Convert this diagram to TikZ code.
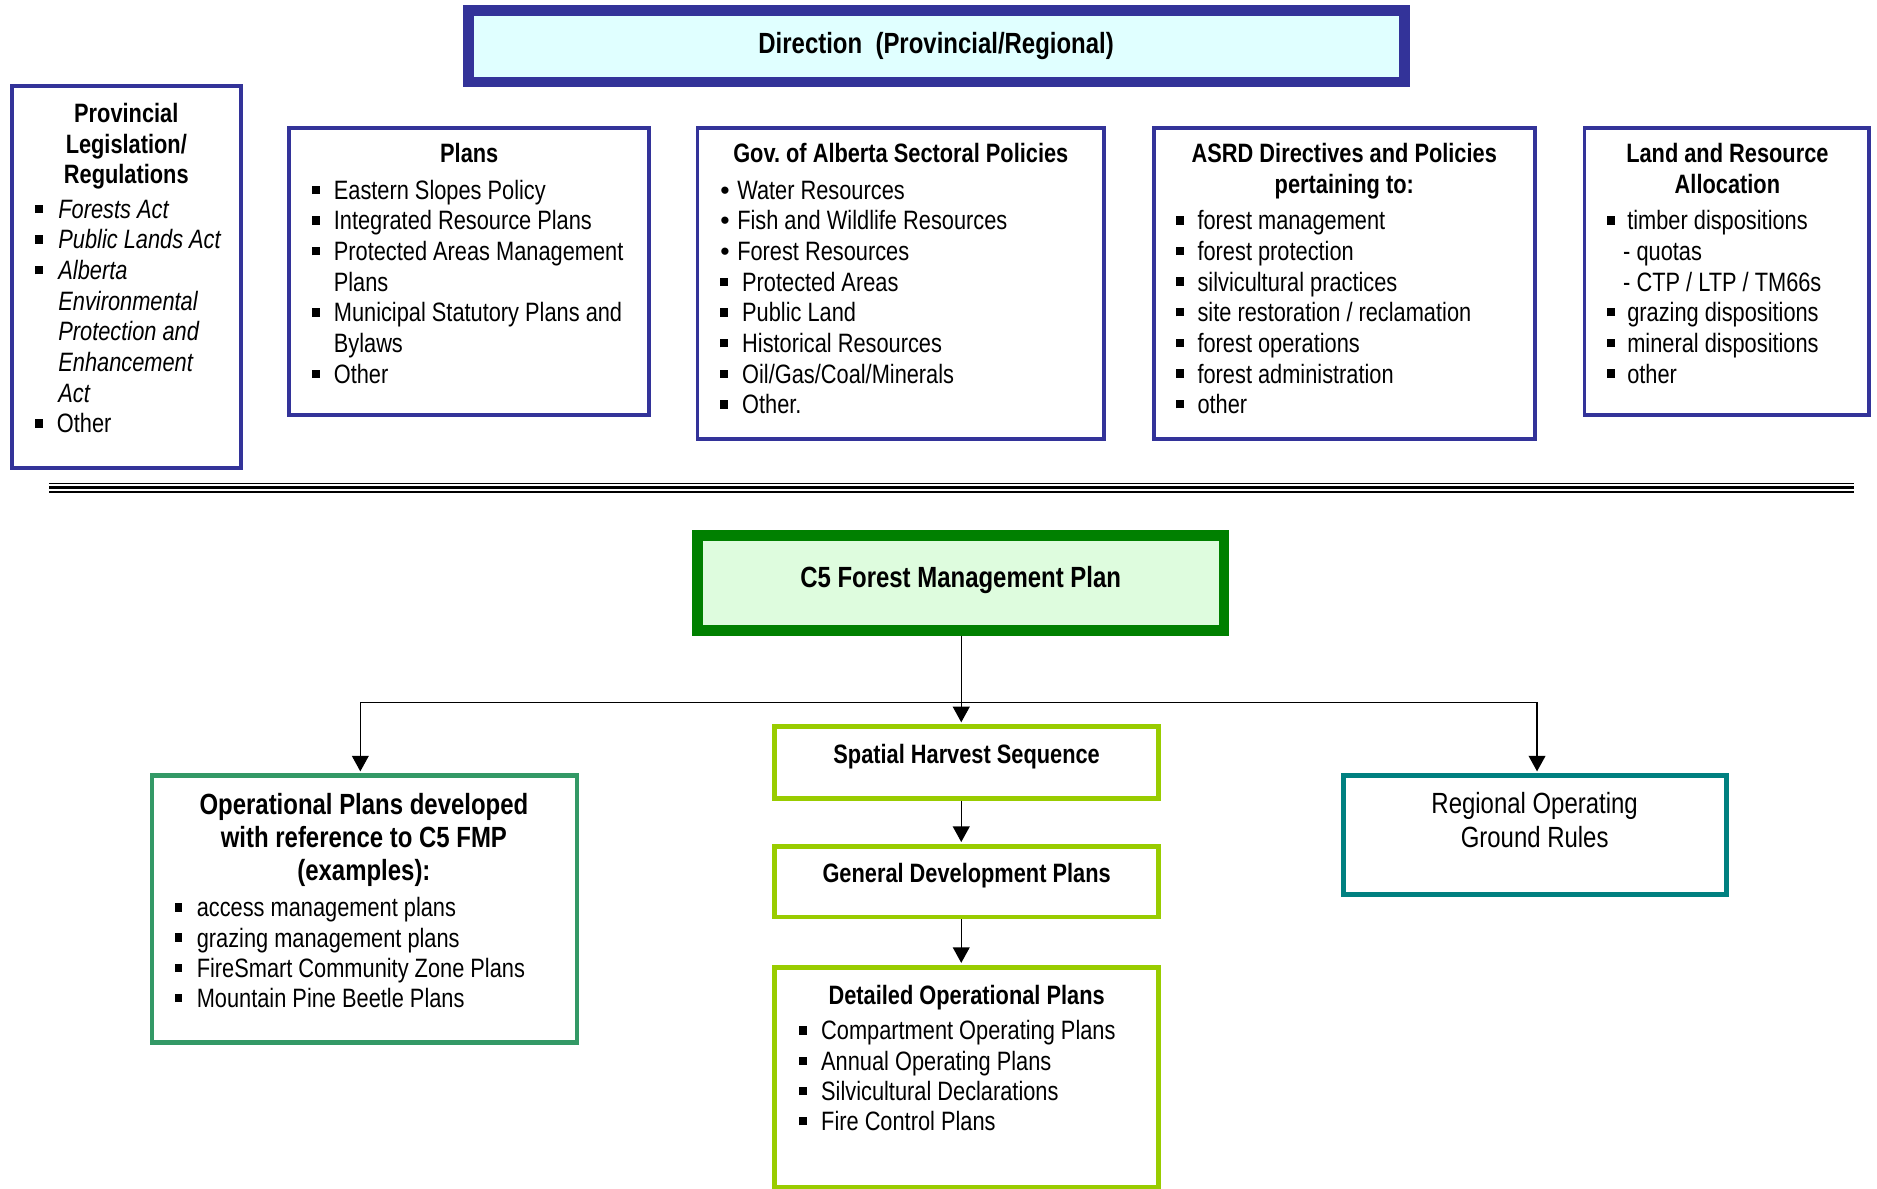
\documentclass[tikz,border=0pt]{standalone}
\usepackage{fontspec}
\setmainfont{Liberation Sans}[FakeStretch=0.82]
\newfontfamily\bulletfont{Liberation Sans}
\usetikzlibrary{arrows.meta}
\definecolor{cNavy}{RGB}{51,51,153}
\definecolor{cDirFill}{RGB}{224,255,255}
\definecolor{cFmp}{RGB}{0,128,0}
\definecolor{cFmpFill}{RGB}{222,252,222}
\definecolor{cLime}{RGB}{153,204,0}
\definecolor{cOps}{RGB}{51,153,102}
\definecolor{cTeal}{RGB}{0,128,128}
\newcommand\sqb[1][5.7pt]{\llap{\rule[2.2pt]{3.3pt}{3.5pt}\hspace{#1}}}
\newcommand\rdb{\llap{{\bulletfont •}\hspace{3.2pt}}}
\frenchspacing
\tikzset{
  topbox/.style={draw=cNavy, line width=1.65pt, fill=white},
  lowbox/.style={line width=2pt, fill=white},
  body/.style={font=\fontsize{11.1}{12.8}\selectfont, inner sep=0pt, anchor=base west},
  ttl/.style={font=\fontsize{11.1}{12.8}\selectfont\bfseries, inner sep=0pt, anchor=base},
  big/.style={font=\fontsize{12.2}{14}\selectfont\bfseries, inner sep=0pt, anchor=base},
  bigreg/.style={font=\fontsize{12.2}{14}\selectfont, inner sep=0pt, anchor=base},
  arr/.style={-{Triangle[width=7pt,length=6.5pt]}, line width=0.6pt, shorten >=0.8pt},
  conn/.style={line width=0.6pt}
}
\begin{document}
\frenchspacing
\begin{tikzpicture}[x=0.5pt,y=-0.5pt]
\useasboundingbox (0,0) rectangle (1568,993.2);

% ---------- top boxes ----------
\node[draw=cNavy, line width=4.5pt, fill=cDirFill, minimum width=391pt, minimum height=30pt, inner sep=0pt] (dir) at (782.5,38.5) {};
\node[big] (dirtxt) at (782,44.7) {Direction~ (Provincial/Regional)};

\node[topbox, minimum width=95.85pt, minimum height=159.85pt, inner sep=0pt] (prov) at (105.5,231.5) {};
\node[topbox, minimum width=150.35pt, minimum height=119.85pt, inner sep=0pt] (plans) at (392,226.5) {};
\node[topbox, minimum width=169.85pt, minimum height=129.85pt, inner sep=0pt] (gov) at (752.5,236.5) {};
\node[topbox, minimum width=159.35pt, minimum height=129.85pt, inner sep=0pt] (asrd) at (1123,236.5) {};
\node[topbox, minimum width=118.85pt, minimum height=119.85pt, inner sep=0pt] (land) at (1442.5,226.5) {};

% Provincial
\foreach \t [count=\i from 0] in {Provincial,Legislation/,Regulations}
  \node[ttl] (provt-\i) at (105.5,102.5+25.6*\i) {\t};
\foreach \t [count=\i from 0] in {{\sqb[6.5pt]\textit{Forests Act}},{\sqb[6.5pt]\textit{Public Lands Act}},{\sqb[6.5pt]\textit{Alberta}},{\textit{Environmental}},{\textit{Protection and}},{\textit{Enhancement}},{\textit{Act}},{\hspace{-0.6pt}\sqb[6pt]Other}}
  \node[body] (provb-\i) at (48.4,182.4+25.6*\i) {\t};

% Plans
\node[ttl] (planst) at (392,136) {Plans};
\foreach \t [count=\i from 0] in {{\sqb Eastern Slopes Policy},{\sqb Integrated Resource Plans},{\sqb Protected Areas Management},{Plans},{\sqb Municipal Statutory Plans and},{Bylaws},{\sqb Other}}
  \node[body] (plansb-\i) at (278.5,166.5+25.6*\i) {\t};

% Gov
\node[ttl] (govt) at (752.5,136) {Gov. of Alberta Sectoral Policies};
\foreach \t [count=\i from 0] in {Water Resources,Fish and Wildlife Resources,Forest Resources}
  \node[body] (govr-\i) at (615.5,166.5+25.6*\i) {\rdb\t};
\foreach \t [count=\i from 0] in {Protected Areas,Public Land,Historical Resources,Oil/Gas/Coal/Minerals,Other.}
  \node[body] (govs-\i) at (619.6,243.3+25.6*\i) {\sqb[5.8pt]\t};

% ASRD
\node[ttl] (asrdt-0) at (1123,136) {ASRD Directives and Policies};
\node[ttl] (asrdt-1) at (1123,161.6) {pertaining to:};
\foreach \t [count=\i from 0] in {forest management,forest protection,silvicultural practices,site restoration / reclamation,forest operations,forest administration,other}
  \node[body] (asrdb-\i) at (1000,192+25.6*\i) {\sqb\t};

% Land
\node[ttl] (landt-0) at (1443,136) {Land and Resource};
\node[ttl] (landt-1) at (1443,161.6) {Allocation};
\foreach \t [count=\i from 0] in {{\sqb[5.3pt]timber dispositions},{\hspace{-1.7pt}- quotas},{\hspace{-1.7pt}- CTP / LTP / TM66s},{\sqb[5.3pt]grazing dispositions},{\sqb[5.3pt]mineral dispositions},{\sqb[5.3pt]other}}
  \node[body] (landb-\i) at (1359,192+25.6*\i) {\t};

% ---------- separator ----------
\draw[line width=0.65pt] (41,403.8) -- (1549,403.8);
\draw[line width=1.6pt] (41,407.3) -- (1549,407.3);
\draw[line width=0.65pt] (41,410.9) -- (1549,410.9);

% ---------- lower part ----------
\node[draw=cFmp, line width=4.5pt, fill=cFmpFill, minimum width=220pt, minimum height=39.5pt, inner sep=0pt] (c5) at (802.5,487) {};
\node[big] (c5txt) at (802.5,490.8) {C5 Forest Management Plan};

\node[lowbox, draw=cLime, minimum width=160.5pt, minimum height=30pt, inner sep=0pt] (spatial) at (807.5,637) {};
\node[ttl] (spatialtxt) at (807.5,638) {Spatial Harvest Sequence};

\node[lowbox, draw=cLime, minimum width=160.5pt, minimum height=29.5pt, inner sep=0pt] (general) at (807.5,736.5) {};
\node[ttl] (generaltxt) at (807.5,737.6) {General Development Plans};

\node[lowbox, draw=cLime, minimum width=160.5pt, minimum height=91.75pt, inner sep=0pt] (detailed) at (807.5,899.75) {};
\node[ttl] (detailedtxt) at (807.5,839) {Detailed Operational Plans};
\foreach \t [count=\i from 0] in {Compartment Operating Plans,Annual Operating Plans,Silvicultural Declarations,Fire Control Plans}
  \node[body] (detb-\i) at (685.6,868.7+25.3*\i) {\sqb[5.8pt]\t};

\node[lowbox, draw=cOps, minimum width=177.5pt, minimum height=111.5pt, inner sep=0pt] (ops) at (304.5,759.5) {};
\foreach \t [count=\i from 0] in {Operational Plans developed,with reference to C5 FMP,(examples):}
  \node[big] (opst-\i) at (304,680+27.8*\i) {\t};
\foreach \t [count=\i from 0] in {access management plans,grazing management plans,FireSmart Community Zone Plans,Mountain Pine Beetle Plans}
  \node[body] (opsb-\i) at (164,766+25.2*\i) {\sqb[6pt]\t};

\node[lowbox, draw=cTeal, minimum width=160.25pt, minimum height=49.75pt, inner sep=0pt] (regional) at (1282.25,697.75) {};
\node[bigreg] (regt-0) at (1282,679.5) {Regional Operating};
\node[bigreg] (regt-1) at (1282,708) {Ground Rules};

% ---------- connectors ----------
\coordinate (split) at ([xshift=0.25pt]c5.south |- 0,587);
\draw[arr] ([xshift=0.25pt]c5.south) -- ([xshift=0.25pt]c5.south |- spatial.north);
\draw[arr] ([xshift=-2.25pt]spatial.south) -- ([xshift=-2.25pt]general.north);
\draw[arr] ([xshift=-2.25pt]general.south) -- ([xshift=-2.25pt]detailed.north);
\draw[arr] (split) -| ([xshift=-1.75pt]ops.north);
\draw[arr] (split) -| ([xshift=0.875pt]regional.north);
\end{tikzpicture}
\end{document}
